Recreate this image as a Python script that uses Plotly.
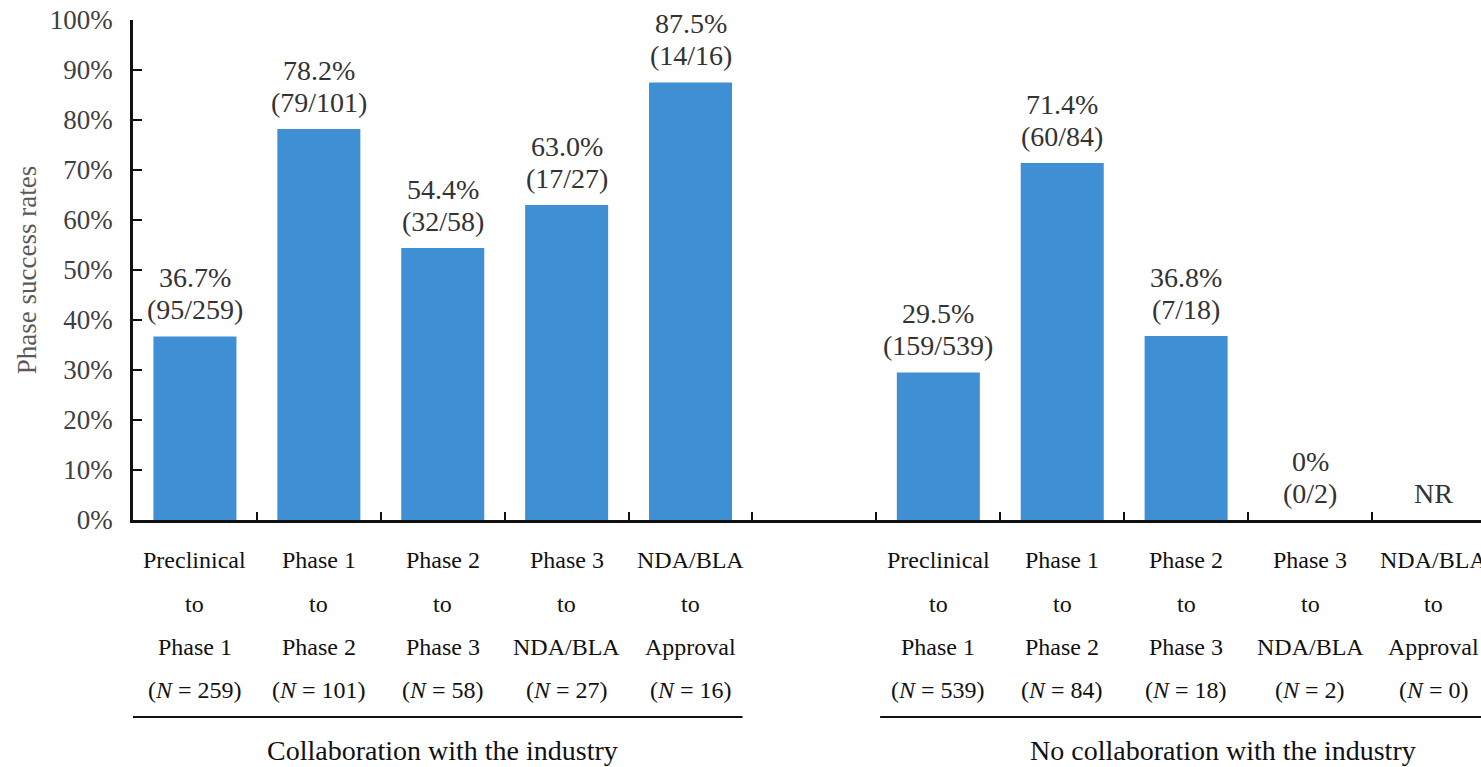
import plotly.graph_objects as go

# Phase transition success rates, grouped by industry collaboration
stage_from = ["Preclinical", "Phase 1", "Phase 2", "Phase 3", "NDA/BLA"]
stage_to = ["Phase 1", "Phase 2", "Phase 3", "NDA/BLA", "Approval"]

collab_rates = [36.7, 78.2, 54.4, 63.0, 87.5]
collab_success = [95, 79, 32, 17, 14]
collab_n = [259, 101, 58, 27, 16]

nocollab_rates = [29.5, 71.4, 36.8, 0.0, None]
nocollab_success = [159, 60, 7, 0, 0]
nocollab_n = [539, 84, 18, 2, 0]

group_titles = ["Collaboration with the industry", "No collaboration with the industry"]
y_ticks = [0, 10, 20, 30, 40, 50, 60, 70, 80, 90, 100]

SERIF = "Liberation Serif, Times New Roman, serif"
BAR_COLOR = "#3E8FD4"

# slot positions: 0-4 for the first group, 6-10 for the second (slot 5 left empty)
x_collab = list(range(0, 5))
x_nocollab = list(range(6, 11))

fig = go.Figure()
fig.add_trace(go.Bar(x=x_collab, y=collab_rates, marker=dict(color=BAR_COLOR, line=dict(width=0)),
                     showlegend=False, hoverinfo="y"))
fig.add_trace(go.Bar(x=x_nocollab, y=[r if r is not None else 0 for r in nocollab_rates],
                     marker=dict(color=BAR_COLOR, line=dict(width=0)),
                     showlegend=False, hoverinfo="y"))

ann = []
label_font = dict(family=SERIF, size=28, color="#333333")


def pct_text(r):
    if r == 0:
        return "0%"
    return f"{r:.1f}%"


def add_value_labels(xs, rates, succ, ns):
    for x, r, s, n in zip(xs, rates, succ, ns):
        if r is None:
            ann.append(dict(x=x, y=0, xref="x", yref="y", text="NR", showarrow=False,
                            yanchor="middle", yshift=27, font=label_font))
            continue
        ann.append(dict(x=x, y=r, xref="x", yref="y", text=f"({s}/{n})", showarrow=False,
                        yanchor="middle", yshift=27, font=label_font))
        ann.append(dict(x=x, y=r, xref="x", yref="y", text=pct_text(r), showarrow=False,
                        yanchor="middle", yshift=59, font=label_font))


add_value_labels(x_collab, collab_rates, collab_success, collab_n)
add_value_labels(x_nocollab, nocollab_rates, nocollab_success, nocollab_n)

# multi-line category labels under the axis
cat_font = dict(family=SERIF, size=24, color="#111111")
line_offsets = [40, 84, 127, 170]  # pixels below the x axis
plot_h = 500
for xs, ns in ((x_collab, collab_n), (x_nocollab, nocollab_n)):
    for x, a, b, n in zip(xs, stage_from, stage_to, ns):
        lines = [a, "to", b, f"(<i>N</i> = {n})"]
        for txt, off in zip(lines, line_offsets):
            ann.append(dict(x=x, y=-off / plot_h, xref="x", yref="paper", text=txt,
                            showarrow=False, yanchor="middle", font=cat_font))

title_font = dict(family=SERIF, size=28, color="#111111")
ann.append(dict(x=2, y=-230 / plot_h, xref="x", yref="paper", text=group_titles[0],
                showarrow=False, yanchor="middle", font=title_font))
ann.append(dict(x=8.3, y=-230 / plot_h, xref="x", yref="paper", text=group_titles[1],
                showarrow=False, yanchor="middle", font=title_font))

# group underline rules
rule_y = -197 / plot_h
shapes = [
    dict(type="line", xref="x", yref="paper", x0=-0.5, x1=4.42, y0=rule_y, y1=rule_y,
         line=dict(color="#111111", width=2)),
    dict(type="line", xref="x", yref="paper", x0=5.53, x1=11, y0=rule_y, y1=rule_y,
         line=dict(color="#111111", width=2)),
]

fig.update_layout(
    width=1481, height=767,
    margin=dict(l=133, r=0, t=20, b=247),
    paper_bgcolor="white", plot_bgcolor="white",
    bargap=0.33,
    annotations=ann,
    shapes=shapes,
    xaxis=dict(
        range=[-0.5, 10.38],
        showgrid=False, zeroline=False,
        showline=True, linecolor="#111111", linewidth=2.5,
        tickmode="array", tickvals=[k + 0.5 for k in range(10)],
        ticks="inside", ticklen=8, tickwidth=1.8, tickcolor="#111111",
        showticklabels=False,
    ),
    yaxis=dict(
        range=[0, 100],
        showgrid=False, zeroline=False,
        showline=True, linecolor="#111111", linewidth=2.5,
        tickmode="array", tickvals=y_ticks, ticktext=[f"{v}%" for v in y_ticks],
        ticks="inside", ticklen=9, tickwidth=2, tickcolor="#111111",
        tickfont=dict(family=SERIF, size=27, color="#404040"),
        ticklabelstandoff=12,
        title=dict(text="Phase success rates", font=dict(family=SERIF, size=27, color="#595959"),
                   standoff=6),
    ),
)

fig.write_html("out.html")
